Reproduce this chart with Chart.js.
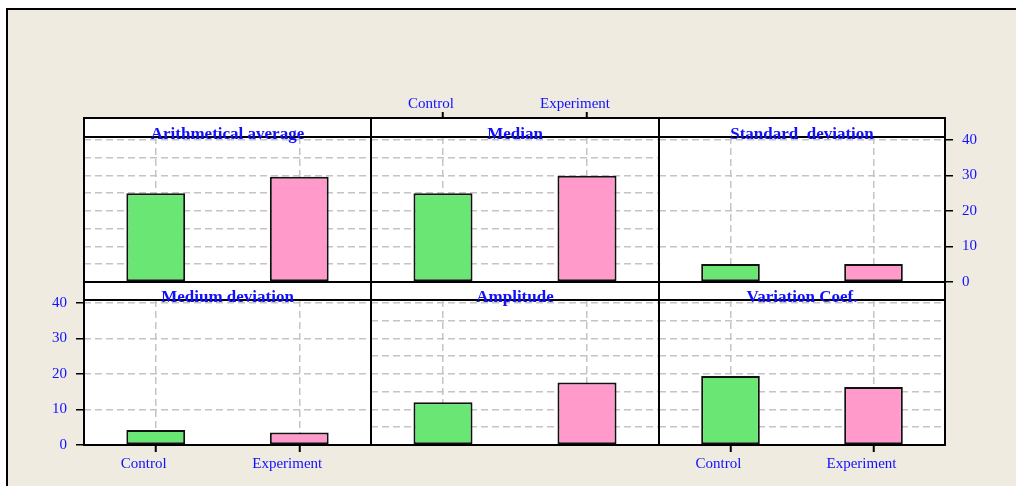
<!DOCTYPE html>
<html>
<head>
<meta charset="utf-8">
<script src="https://cdn.jsdelivr.net/npm/chart.js@4.4.1/dist/chart.umd.min.js"></script>
<style>
  html, body { margin: 0; padding: 0; background: #fff; }
  #wrap { position: relative; width: 1016px; height: 486px; overflow: hidden; background: #fff; }
  #frame { position: absolute; left: 6px; top: 8px; width: 1100px; height: 600px;
           border: 2px solid #000; background: #efebe1; }
  canvas { position: absolute; left: 0; top: 0; }
</style>
</head>
<body>
<div id="wrap">
  <div id="frame"></div>
</div>
<script>
// data
const panelTitles = ['Arithmetical average', 'Median', 'Standard  deviation',
                     'Medium deviation', 'Amplitude', 'Variation Coef.'];
const groups = ['Control', 'Experiment'];
const controlValues = [25.0, 25.0, 5.1, 4.2, 12.0, 19.4];
const experimentValues = [29.6, 29.9, 5.1, 3.5, 17.6, 16.3];
const yMax = 40.8;

// look
const groupColors = ['#69e673', '#ff9acb'];
const labelBlue = '#1010ff';
const gridGray = '#c4c4c4';
const serif = '"Liberation Serif", "DejaVu Serif", serif';

// layout of the lattice
const colEdges = [84, 371, 659, 945];
const rows = [
  { stripTop: 118, plotTop: 137, plotBottom: 282 },
  { stripTop: 282, plotTop: 300, plotBottom: 445 }
];

Chart.defaults.font.family = serif;

const panelFrame = {
  id: 'panelFrame',
  beforeDraw(chart, args, opts) {
    const { ctx, chartArea: a } = chart;
    ctx.save();
    ctx.fillStyle = '#fff';
    ctx.fillRect(a.left, opts.stripTop, a.right - a.left, a.bottom - opts.stripTop);
    ctx.restore();
  },
  afterDraw(chart, args, opts) {
    const { ctx, chartArea: a } = chart;
    ctx.save();
    // strip
    ctx.fillStyle = '#fff';
    ctx.fillRect(a.left, opts.stripTop, a.right - a.left, a.top - opts.stripTop);
    ctx.strokeStyle = '#000';
    ctx.lineWidth = 2;
    ctx.strokeRect(a.left, opts.stripTop, a.right - a.left, a.top - opts.stripTop);
    ctx.strokeRect(a.left, a.top, a.right - a.left, a.bottom - a.top);
    // title
    ctx.fillStyle = labelBlue;
    ctx.font = 'bold 17px ' + serif;
    ctx.textAlign = 'center';
    ctx.textBaseline = 'alphabetic';
    ctx.fillText(opts.title, (a.left + a.right) / 2, a.top + 1.5);
    ctx.restore();
  }
};

const wrap = document.getElementById('wrap');

panelTitles.forEach((title, i) => {
  const row = i < 3 ? 0 : 1;
  const col = i % 3;
  const r = rows[row];

  let xPos = 'bottom', showX = false;
  if (row === 1 && col !== 1) { showX = true; }
  if (row === 0 && col === 1) { showX = true; xPos = 'top'; }

  let yPos = 'left', showY = false;
  if (row === 1 && col === 0) { showY = true; }
  if (row === 0 && col === 2) { showY = true; yPos = 'right'; }

  const yW = showY ? 60 : 0;
  const xTickLen = xPos === 'top' ? (r.plotTop - r.stripTop) + 6 : 7;
  const xH = showX ? xTickLen + 30 : 0;

  const padding = {
    left: colEdges[col] - (yPos === 'left' ? yW : 0),
    right: 1016 - colEdges[col + 1] - (yPos === 'right' ? yW : 0),
    top: r.plotTop - (xPos === 'top' ? xH : 0),
    bottom: 486 - r.plotBottom - (xPos === 'bottom' ? xH : 0)
  };

  const canvas = document.createElement('canvas');
  canvas.width = 1016;
  canvas.height = 486;
  wrap.appendChild(canvas);

  new Chart(canvas.getContext('2d'), {
    type: 'bar',
    data: {
      labels: groups,
      datasets: [{
        data: [controlValues[i], experimentValues[i]],
        backgroundColor: groupColors,
        borderColor: '#111',
        borderWidth: 2,
        borderSkipped: false,
        barPercentage: 0.41,
        categoryPercentage: 1
      }]
    },
    options: {
      responsive: false,
      animation: false,
      devicePixelRatio: 1,
      layout: { padding: padding, autoPadding: false },
      plugins: {
        legend: { display: false },
        tooltip: { enabled: false },
        panelFrame: { title: title, stripTop: r.stripTop }
      },
      scales: {
        x: {
          type: 'category',
          position: xPos,
          offset: true,
          grid: {
            offset: false,
            color: gridGray,
            lineWidth: 1.5,
            drawTicks: showX,
            tickLength: xTickLen,
            tickColor: '#000',
            tickWidth: 2
          },
          border: { display: false, dash: [7, 4] },
          ticks: {
            display: showX,
            color: labelBlue,
            font: { size: 15 },
            padding: xPos === 'top' ? -1 : 3,
            labelOffset: -12,
            maxRotation: 0,
            autoSkip: false
          },
          afterFit: s => { s.height = xH; }
        },
        y: {
          type: 'linear',
          position: yPos,
          min: 0,
          max: yMax,
          grid: {
            color: gridGray,
            lineWidth: 1.5,
            drawTicks: showY,
            tickLength: 8,
            tickColor: c => (c.tick && c.tick.value % 10 === 0) ? '#000' : 'rgba(0,0,0,0)',
            tickWidth: 1.5
          },
          border: { display: false, dash: [7, 4] },
          ticks: {
            display: showY,
            stepSize: 5,
            includeBounds: false,
            color: labelBlue,
            font: { size: 15 },
            padding: 9,
            callback: v => (v % 10 === 0 ? v : '')
          },
          afterFit: s => { s.width = yW; }
        }
      }
    },
    plugins: [panelFrame]
  });
});
</script>
</body>
</html>
